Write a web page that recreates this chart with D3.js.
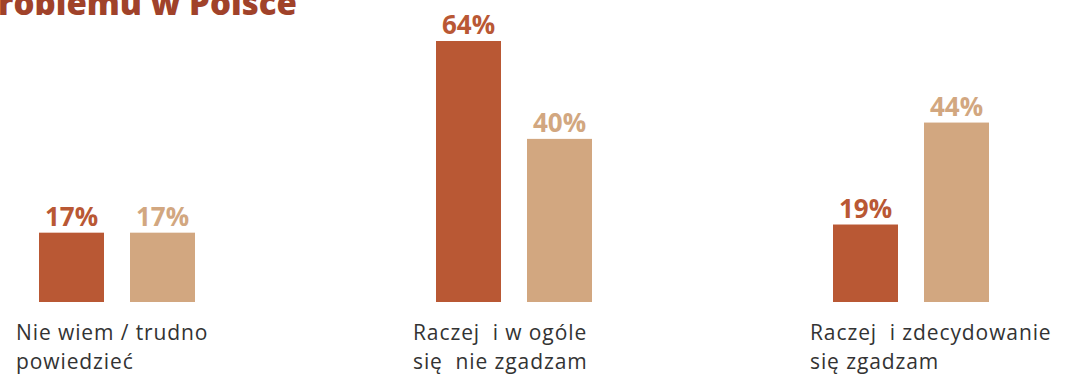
<!DOCTYPE html>
<html>
<head>
<meta charset="utf-8">
<script src="https://cdn.jsdelivr.net/npm/d3@7"></script>
<style>
  html, body { margin: 0; padding: 0; background: #fff; }
  svg { display: block; }
  text { font-family: "Open Sans", Lato, sans-serif; }
</style>
</head>
<body>
<div id="chart"></div>
<script>
const categories = [
  ['Nie wiem / trudno', 'powiedzieć'],
  ['Raczej  i w ogóle', 'się  nie zgadzam'],
  ['Raczej  i zdecydowanie', 'się zgadzam']
];
const series = ['a', 'b'];
const valuesA = [17, 64, 19];
const valuesB = [17, 40, 44];
const title = 'roblemu w Polsce';

const width = 1076, height = 376;
const baseline = 302;

const svg = d3.select('#chart').append('svg')
  .attr('width', width).attr('height', height);

const color = d3.scaleOrdinal().domain(series).range(['#b95834', '#d2a780']);

const x0 = d3.scaleBand()
  .domain(d3.range(categories.length))
  .range([39, 39 + 397 * 2 + 156])
  .paddingInner((397 - 156) / 397)
  .paddingOuter(0);

const x1 = d3.scaleBand()
  .domain(series)
  .range([0, x0.bandwidth()])
  .paddingInner(26 / 91);

const y = d3.scaleLinear().domain([0, 64]).range([baseline, 41]);

const rows = categories.map((c, i) => ({
  i,
  label: c,
  vals: [{ s: 'a', v: valuesA[i] }, { s: 'b', v: valuesB[i] }]
}));

svg.append('text')
  .attr('x', -2).attr('y', 15)
  .attr('font-size', 33).attr('font-weight', 800)
  .attr('fill', '#a0422a')
  .text(title);

const g = svg.append('g').selectAll('g')
  .data(rows)
  .enter().append('g')
    .attr('transform', d => `translate(${x0(d.i)},0)`);

g.selectAll('rect')
  .data(d => d.vals)
  .enter().append('rect')
    .attr('x', d => x1(d.s))
    .attr('y', d => y(d.v))
    .attr('width', x1.bandwidth())
    .attr('height', d => baseline - y(d.v))
    .attr('fill', d => color(d.s));

g.selectAll('text.val')
  .data(d => d.vals)
  .enter().append('text')
    .attr('class', 'val')
    .attr('x', d => x1(d.s) + x1.bandwidth() / 2)
    .attr('y', d => y(d.v) - 7)
    .attr('text-anchor', 'middle')
    .attr('font-size', 26).attr('font-weight', 700)
    .attr('font-family', 'Lato, sans-serif')
    .attr('fill', d => color(d.s))
    .text(d => d.v + '%');

const lab = g.append('text')
  .attr('y', 340)
  .attr('font-size', 21)
  .attr('letter-spacing', 0.9)
  .attr('fill', '#333')
  .style('white-space', 'pre');

lab.selectAll('tspan')
  .data(d => d.label)
  .enter().append('tspan')
    .attr('x', -23)
    .attr('dy', (d, i) => i ? 29 : 0)
    .text(d => d);
</script>
</body>
</html>
